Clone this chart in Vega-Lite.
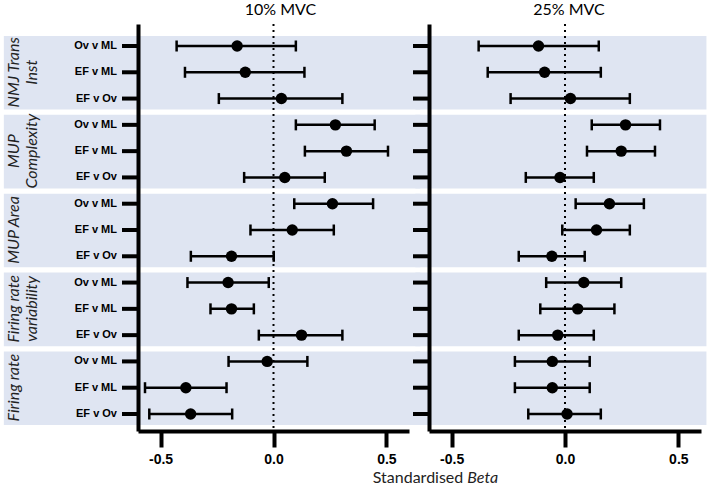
{
  "$schema": "https://vega.github.io/schema/vega-lite/v6.json",
  "autosize": {"type": "pad"},
  "padding": {"left": 3, "top": 2, "right": 3, "bottom": 0},
  "bounds": "flush",
  "spacing": 20,
  "config": {
    "view": {"stroke": null},
    "axis": {
      "grid": false,
      "domainColor": "black",
      "domainWidth": 4,
      "tickColor": "black",
      "tickWidth": 4,
      "tickSize": 16,
      "labelColor": "black",
      "labelFont": "Liberation Sans",
      "labelFontWeight": "bold",
      "title": null
    },
    "title": {"font": "Lato", "fontSize": 16, "fontWeight": "normal", "color": "black", "offset": 5}
  },
  "datasets": {
    "groups": [
      {"group": "NMJ Trans Inst", "label": "NMJ Trans\nInst", "first": 1, "mid": 2, "last": 3},
      {"group": "MUP Complexity", "label": "MUP\nComplexity", "first": 4, "mid": 5, "last": 6},
      {"group": "MUP Area", "label": "MUP Area", "first": 7, "mid": 8, "last": 9},
      {"group": "Firing rate variability", "label": "Firing rate\nvariability", "first": 10, "mid": 11, "last": 12},
      {"group": "Firing rate", "label": "Firing rate", "first": 13, "mid": 14, "last": 15}
    ],
    "est": [
      {"mvc": "10% MVC", "row": 1, "comparison": "Ov v ML", "beta": -0.161, "lo": -0.429, "hi": 0.099},
      {"mvc": "10% MVC", "row": 2, "comparison": "EF v ML", "beta": -0.125, "lo": -0.392, "hi": 0.137},
      {"mvc": "10% MVC", "row": 3, "comparison": "EF v Ov", "beta": 0.035, "lo": -0.242, "hi": 0.305},
      {"mvc": "10% MVC", "row": 4, "comparison": "Ov v ML", "beta": 0.274, "lo": 0.099, "hi": 0.448},
      {"mvc": "10% MVC", "row": 5, "comparison": "EF v ML", "beta": 0.323, "lo": 0.139, "hi": 0.507},
      {"mvc": "10% MVC", "row": 6, "comparison": "EF v Ov", "beta": 0.050, "lo": -0.130, "hi": 0.227},
      {"mvc": "10% MVC", "row": 7, "comparison": "Ov v ML", "beta": 0.261, "lo": 0.092, "hi": 0.441},
      {"mvc": "10% MVC", "row": 8, "comparison": "EF v ML", "beta": 0.083, "lo": -0.102, "hi": 0.267},
      {"mvc": "10% MVC", "row": 9, "comparison": "EF v Ov", "beta": -0.186, "lo": -0.366, "hi": 0.001},
      {"mvc": "10% MVC", "row": 10, "comparison": "Ov v ML", "beta": -0.201, "lo": -0.381, "hi": -0.021},
      {"mvc": "10% MVC", "row": 11, "comparison": "EF v ML", "beta": -0.186, "lo": -0.279, "hi": -0.087},
      {"mvc": "10% MVC", "row": 12, "comparison": "EF v Ov", "beta": 0.124, "lo": -0.065, "hi": 0.305},
      {"mvc": "10% MVC", "row": 13, "comparison": "Ov v ML", "beta": -0.028, "lo": -0.199, "hi": 0.150},
      {"mvc": "10% MVC", "row": 14, "comparison": "EF v ML", "beta": -0.388, "lo": -0.569, "hi": -0.208},
      {"mvc": "10% MVC", "row": 15, "comparison": "EF v Ov", "beta": -0.367, "lo": -0.550, "hi": -0.183},
      {"mvc": "25% MVC", "row": 1, "comparison": "Ov v ML", "beta": -0.117, "lo": -0.381, "hi": 0.149},
      {"mvc": "25% MVC", "row": 2, "comparison": "EF v ML", "beta": -0.090, "lo": -0.341, "hi": 0.158},
      {"mvc": "25% MVC", "row": 3, "comparison": "EF v Ov", "beta": 0.024, "lo": -0.240, "hi": 0.286},
      {"mvc": "25% MVC", "row": 4, "comparison": "Ov v ML", "beta": 0.267, "lo": 0.118, "hi": 0.419},
      {"mvc": "25% MVC", "row": 5, "comparison": "EF v ML", "beta": 0.248, "lo": 0.097, "hi": 0.397},
      {"mvc": "25% MVC", "row": 6, "comparison": "EF v Ov", "beta": -0.022, "lo": -0.173, "hi": 0.127},
      {"mvc": "25% MVC", "row": 7, "comparison": "Ov v ML", "beta": 0.196, "lo": 0.047, "hi": 0.348},
      {"mvc": "25% MVC", "row": 8, "comparison": "EF v ML", "beta": 0.139, "lo": -0.012, "hi": 0.286},
      {"mvc": "25% MVC", "row": 9, "comparison": "EF v Ov", "beta": -0.058, "lo": -0.204, "hi": 0.087},
      {"mvc": "25% MVC", "row": 10, "comparison": "Ov v ML", "beta": 0.083, "lo": -0.083, "hi": 0.248},
      {"mvc": "25% MVC", "row": 11, "comparison": "EF v ML", "beta": 0.056, "lo": -0.109, "hi": 0.218},
      {"mvc": "25% MVC", "row": 12, "comparison": "EF v Ov", "beta": -0.032, "lo": -0.204, "hi": 0.127},
      {"mvc": "25% MVC", "row": 13, "comparison": "Ov v ML", "beta": -0.056, "lo": -0.221, "hi": 0.109},
      {"mvc": "25% MVC", "row": 14, "comparison": "EF v ML", "beta": -0.056, "lo": -0.221, "hi": 0.109},
      {"mvc": "25% MVC", "row": 15, "comparison": "EF v Ov", "beta": 0.009, "lo": -0.162, "hi": 0.158}
    ]
  },
  "hconcat": [
    {
      "title": {"text": "10% MVC", "dx": 7},
      "width": 271,
      "height": 407,
      "layer": [
        {
          "data": {"name": "groups"},
          "mark": {"type": "rect", "color": "#dfe5f2", "opacity": 1, "yOffset": -10, "y2Offset": 11},
          "encoding": {
            "x": {
              "datum": -1.194, "type": "quantitative",
              "scale": {"domain": [-0.6, 0.6], "nice": false, "zero": false},
              "axis": {
                "values": [-0.5, 0, 0.5],
                "labelExpr": "datum.value < 0 ? '-' + format(-datum.value, '.1f') : format(datum.value, '.1f')",
                "labelFontSize": 14,
                "labelPadding": 5,
                "zindex": 2
              }
            },
            "x2": {"datum": 0.65},
            "y": {
              "field": "first", "type": "quantitative",
              "scale": {"domain": [0.163, 15.647], "reverse": true, "nice": false, "zero": false},
              "axis": {"values": [], "ticks": false, "labels": false, "domain": true, "zindex": 2}
            },
            "y2": {"field": "last"}
          }
        },
        {
          "data": {"name": "groups"},
          "mark": {"type": "text", "font": "Lato", "fontStyle": "italic", "fontSize": 16, "angle": 270, "align": "center", "baseline": "top", "lineBreak": "\n", "lineHeight": 18, "color": "#222222"},
          "encoding": {
            "x": {"datum": -1.1845, "type": "quantitative"},
            "y": {"field": "mid", "type": "quantitative"},
            "text": {"field": "label"}
          }
        },
        {
          "data": {"values": [{}]},
          "mark": {"type": "rule", "color": "black", "strokeWidth": 2, "strokeDash": [2, 4]},
          "encoding": {"x": {"datum": 0, "type": "quantitative"}}
        },
        {
          "data": {"name": "est"},
          "transform": [{"filter": "datum.mvc == '10% MVC'"}],
          "layer": [
            {
              "mark": {"type": "rule", "color": "black", "strokeWidth": 4},
              "encoding": {
                "x": {"datum": -0.6709, "type": "quantitative"},
                "x2": {"datum": -0.6},
                "y": {"field": "row", "type": "quantitative"}
              }
            },
            {
              "mark": {"type": "text", "font": "Liberation Sans", "fontWeight": "bold", "fontSize": 11, "align": "right", "baseline": "middle", "color": "black"},
              "encoding": {
                "x": {"datum": -0.693, "type": "quantitative"},
                "y": {"field": "row", "type": "quantitative"},
                "text": {"field": "comparison"}
              }
            },
            {
              "mark": {"type": "rule", "color": "black", "strokeWidth": 2.5},
              "encoding": {
                "x": {"field": "lo", "type": "quantitative"},
                "x2": {"field": "hi"},
                "y": {"field": "row", "type": "quantitative"}
              }
            },
            {
              "mark": {"type": "tick", "orient": "vertical", "color": "black", "opacity": 1, "thickness": 2.5, "size": 11},
              "encoding": {
                "x": {"field": "lo", "type": "quantitative"},
                "y": {"field": "row", "type": "quantitative"}
              }
            },
            {
              "mark": {"type": "tick", "orient": "vertical", "color": "black", "opacity": 1, "thickness": 2.5, "size": 11},
              "encoding": {
                "x": {"field": "hi", "type": "quantitative"},
                "y": {"field": "row", "type": "quantitative"}
              }
            },
            {
              "mark": {"type": "point", "filled": true, "color": "black", "opacity": 1, "size": 130},
              "encoding": {
                "x": {"field": "beta", "type": "quantitative"},
                "y": {"field": "row", "type": "quantitative"},
                "tooltip": [{"field": "comparison"}, {"field": "beta"}, {"field": "lo"}, {"field": "hi"}]
              }
            }
          ]
        }
      ]
    },
    {
      "title": {"text": "25% MVC", "dx": 4},
      "width": 272,
      "height": 407,
      "layer": [
        {
          "data": {"name": "groups"},
          "mark": {"type": "rect", "color": "#dfe5f2", "opacity": 1, "yOffset": -10, "y2Offset": 11},
          "encoding": {
            "x": {
              "datum": -0.66, "type": "quantitative",
              "scale": {"domain": [-0.6, 0.6], "nice": false, "zero": false},
              "axis": {
                "values": [-0.5, 0, 0.5],
                "labelExpr": "datum.value < 0 ? '-' + format(-datum.value, '.1f') : format(datum.value, '.1f')",
                "labelFontSize": 14,
                "labelPadding": 5,
                "zindex": 2
              }
            },
            "x2": {"datum": 0.624},
            "y": {
              "field": "first", "type": "quantitative",
              "scale": {"domain": [0.163, 15.647], "reverse": true, "nice": false, "zero": false},
              "axis": {"values": [], "ticks": false, "labels": false, "domain": true, "zindex": 2}
            },
            "y2": {"field": "last"}
          }
        },
        {
          "data": {"values": [{}]},
          "mark": {"type": "rule", "color": "black", "strokeWidth": 2, "strokeDash": [2, 4]},
          "encoding": {"x": {"datum": 0, "type": "quantitative"}}
        },
        {
          "data": {"values": [{}]},
          "mark": {"type": "text", "font": "Lato", "fontSize": 16, "align": "right", "baseline": "alphabetic", "dx": -2, "color": "#222222"},
          "encoding": {
            "x": {"datum": -0.44, "type": "quantitative"},
            "y": {"datum": 17.62, "type": "quantitative"},
            "text": {"value": "Standardised"}
          }
        },
        {
          "data": {"values": [{}]},
          "mark": {"type": "text", "font": "Lato", "fontSize": 16, "fontStyle": "italic", "align": "left", "baseline": "alphabetic", "dx": 2, "color": "#222222"},
          "encoding": {
            "x": {"datum": -0.44, "type": "quantitative"},
            "y": {"datum": 17.62, "type": "quantitative"},
            "text": {"value": "Beta"}
          }
        },
        {
          "data": {"name": "est"},
          "transform": [{"filter": "datum.mvc == '25% MVC'"}],
          "layer": [
            {
              "mark": {"type": "rule", "color": "black", "strokeWidth": 4},
              "encoding": {
                "x": {"datum": -0.6706, "type": "quantitative"},
                "x2": {"datum": -0.6},
                "y": {"field": "row", "type": "quantitative"}
              }
            },
            {
              "mark": {"type": "rule", "color": "black", "strokeWidth": 2.5},
              "encoding": {
                "x": {"field": "lo", "type": "quantitative"},
                "x2": {"field": "hi"},
                "y": {"field": "row", "type": "quantitative"}
              }
            },
            {
              "mark": {"type": "tick", "orient": "vertical", "color": "black", "opacity": 1, "thickness": 2.5, "size": 11},
              "encoding": {
                "x": {"field": "lo", "type": "quantitative"},
                "y": {"field": "row", "type": "quantitative"}
              }
            },
            {
              "mark": {"type": "tick", "orient": "vertical", "color": "black", "opacity": 1, "thickness": 2.5, "size": 11},
              "encoding": {
                "x": {"field": "hi", "type": "quantitative"},
                "y": {"field": "row", "type": "quantitative"}
              }
            },
            {
              "mark": {"type": "point", "filled": true, "color": "black", "opacity": 1, "size": 130},
              "encoding": {
                "x": {"field": "beta", "type": "quantitative"},
                "y": {"field": "row", "type": "quantitative"},
                "tooltip": [{"field": "comparison"}, {"field": "beta"}, {"field": "lo"}, {"field": "hi"}]
              }
            }
          ]
        }
      ]
    }
  ]
}
